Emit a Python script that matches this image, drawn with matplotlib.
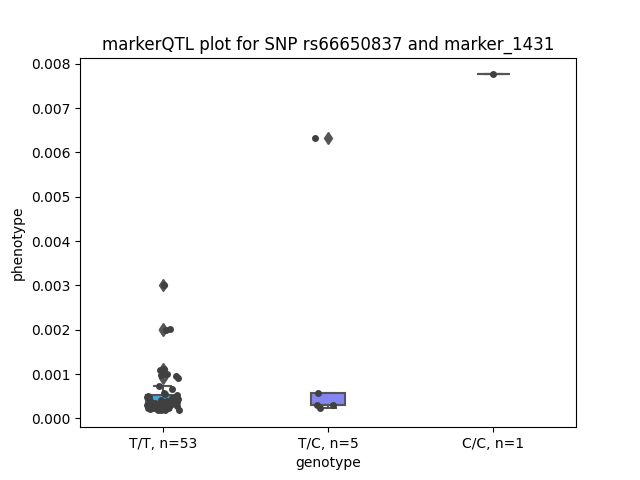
import numpy as np
import pandas as pd
import matplotlib
matplotlib.use("Agg")
import matplotlib.pyplot as plt
import seaborn as sns

# phenotype values per genotype group
tt_vals = [0.00301, 0.00201, 0.00199, 0.00112, 0.00110, 0.00101, 0.00098, 0.00095, 0.00092,
           0.00072, 0.00066,
           0.00058, 0.00055, 0.00052, 0.00050, 0.00049, 0.00048, 0.00047, 0.00046, 0.00045,
           0.00044, 0.00043, 0.00042, 0.00041, 0.00040, 0.00039, 0.00038, 0.00037, 0.00036,
           0.00035, 0.00034, 0.00033, 0.00033, 0.00032, 0.00031, 0.00030, 0.00029, 0.00028,
           0.00027, 0.00027, 0.00026, 0.00025, 0.00025, 0.00024, 0.00024, 0.00023, 0.00023,
           0.00022, 0.00021, 0.00020, 0.00020, 0.00019, 0.00018]
tc_vals = [0.00633, 0.00057, 0.00031, 0.00030, 0.00023]
cc_vals = [0.00776]

groups = ["T/T, n=53", "T/C, n=5", "C/C, n=1"]
box_colors = ["#3fa7de", "#8585f2", "#e07a5f"]

geno = [groups[0]] * len(tt_vals) + [groups[1]] * len(tc_vals) + [groups[2]] * len(cc_vals)
df = pd.DataFrame({"genotype": geno, "phenotype": tt_vals + tc_vals + cc_vals})

np.random.seed(0)
fig, ax = plt.subplots(figsize=(6.4, 4.8), dpi=100)
sns.boxplot(data=df, x="genotype", y="phenotype", hue="genotype", order=groups,
            palette=box_colors, saturation=1, width=0.2, linecolor="#555555",
            linewidth=1.5, legend=False, ax=ax,
            flierprops=dict(marker="d", markerfacecolor="#555555",
                            markeredgecolor="#555555", markersize=6))
sns.stripplot(data=df, x="genotype", y="phenotype", order=groups, color=".25",
              size=5, jitter=0.1, ax=ax)
ax.set_title("markerQTL plot for SNP rs66650837 and marker_1431")
ax.set_xlabel("genotype")
ax.set_ylabel("phenotype")
fig.savefig("out.png")
